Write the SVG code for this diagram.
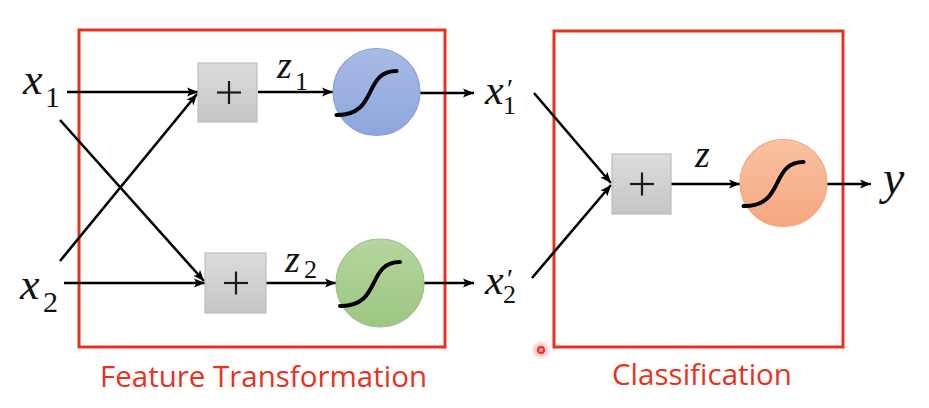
<svg xmlns="http://www.w3.org/2000/svg" width="929" height="408" viewBox="0 0 929 408">
<defs>
<marker id="ah" markerUnits="userSpaceOnUse" markerWidth="12" markerHeight="10" refX="11" refY="5" orient="auto">
<path d="M0,0.5 L11,5 L0,9.5 L2.5,5 Z" fill="#000"/>
</marker>
<linearGradient id="gbox" x1="0" y1="0" x2="0" y2="1">
<stop offset="0" stop-color="#dcdcdc"/><stop offset="1" stop-color="#c6c6c6"/>
</linearGradient>
<linearGradient id="gblue" x1="0" y1="0" x2="0" y2="1">
<stop offset="0" stop-color="#a9bbe6"/><stop offset="1" stop-color="#8ea6dd"/>
</linearGradient>
<linearGradient id="ggreen" x1="0" y1="0" x2="0" y2="1">
<stop offset="0" stop-color="#b5d69d"/><stop offset="1" stop-color="#9cc682"/>
</linearGradient>
<linearGradient id="gorange" x1="0" y1="0" x2="0" y2="1">
<stop offset="0" stop-color="#f9c3a3"/><stop offset="1" stop-color="#f5a67e"/>
</linearGradient>
<radialGradient id="glow">
<stop offset="0" stop-color="#ff3b3b" stop-opacity="0.55"/><stop offset="1" stop-color="#ff3b3b" stop-opacity="0"/>
</radialGradient>
<style>
.frame{fill:none;stroke:#e8321e;stroke-width:3}
.box{fill:url(#gbox);stroke:#bdbdbd;stroke-width:1.2}
.plus{stroke:#1a1a1a;stroke-width:2.2}
.sig{fill:none;stroke:#000;stroke-width:4;stroke-linecap:round}
.edge{stroke:#000;stroke-width:2.6;fill:none}
.arr{marker-end:url(#ah)}
.m{font-family:"Liberation Serif","DejaVu Serif",serif;font-style:italic;fill:#111}
.s{font-style:normal}
.cap{font-family:"Open Sans","Noto Sans",sans-serif;fill:#e8321e}
</style>
</defs>

<g id="frame-feature"><rect class="frame" x="79" y="30" width="366" height="317"/>
<text class="cap" x="100" y="387" font-size="29" textLength="327" lengthAdjust="spacingAndGlyphs">Feature Transformation</text></g>
<g id="frame-class"><rect class="frame" x="554" y="31" width="289" height="316"/>
<text class="cap" x="612" y="385" font-size="29" textLength="180" lengthAdjust="spacingAndGlyphs">Classification</text></g>

<g id="connectors">
<line class="edge arr" x1="67" y1="92" x2="198" y2="92"/>
<line class="edge arr" x1="60" y1="120" x2="204" y2="281"/>
<line class="edge arr" x1="60" y1="261" x2="197" y2="94"/>
<line class="edge arr" x1="64" y1="283" x2="205" y2="283"/>
<line class="edge arr" x1="258" y1="92" x2="333" y2="92"/>
<line class="edge arr" x1="266" y1="283" x2="336" y2="283"/>
<line class="edge arr" x1="420" y1="93" x2="474" y2="93"/>
<line class="edge arr" x1="424" y1="283" x2="474" y2="283"/>
<line class="edge arr" x1="534" y1="93" x2="611" y2="183"/>
<line class="edge arr" x1="532" y1="278" x2="611" y2="185"/>
<line class="edge arr" x1="671" y1="184" x2="740" y2="184"/>
<line class="edge arr" x1="827" y1="184" x2="871" y2="184"/>
</g>

<g id="x1"><text class="m" x="23" y="94" font-size="44">x<tspan class="s" x="45" y="107" font-size="30">1</tspan></text></g>
<g id="x2"><text class="m" x="20" y="299" font-size="44">x<tspan class="s" x="43" y="312" font-size="30">2</tspan></text></g>

<g id="sum1"><rect class="box" x="198" y="63" width="59" height="59"/>
<line class="plus" x1="217" y1="92.5" x2="241" y2="92.5"/><line class="plus" x1="229" y1="81" x2="229" y2="104"/></g>
<g id="sum2"><rect class="box" x="205" y="253" width="61" height="60"/>
<line class="plus" x1="224" y1="283" x2="248" y2="283"/><line class="plus" x1="236" y1="271.5" x2="236" y2="294.5"/></g>

<g id="z1"><text class="m" x="277" y="78" font-size="38">z<tspan class="s" x="295" y="90" font-size="26">1</tspan></text></g>
<g id="z2"><text class="m" x="285" y="272" font-size="38">z<tspan class="s" x="304" y="278" font-size="26">2</tspan></text></g>

<g id="sig1"><circle cx="376.5" cy="92" r="43.5" fill="url(#gblue)" stroke="#8aa0d6" stroke-width="1.2"/>
<path class="sig" transform="translate(376.5,92)" d="M-40,23 C2,24 -14,-21 20,-21"/></g>
<g id="sig2"><circle cx="380" cy="283" r="44" fill="url(#ggreen)" stroke="#9cc484" stroke-width="1.2"/>
<path class="sig" transform="translate(380,283)" d="M-40,23 C2,24 -14,-21 20,-21"/></g>

<g id="xp1"><text class="m" x="485" y="104" font-size="42">x<tspan class="s" x="507" y="98" font-size="28">′</tspan><tspan class="s" x="503" y="114" font-size="26">1</tspan></text></g>
<g id="xp2"><text class="m" x="485" y="294" font-size="42">x<tspan class="s" x="507" y="288" font-size="28">′</tspan><tspan class="s" x="503" y="303" font-size="26">2</tspan></text></g>

<g id="sum3"><rect class="box" x="612" y="154" width="59" height="60"/>
<line class="plus" x1="630" y1="184" x2="654" y2="184"/><line class="plus" x1="642" y1="172.5" x2="642" y2="195.5"/></g>
<g id="z"><text class="m" x="695" y="167" font-size="38">z</text></g>
<g id="sig3"><circle cx="783.5" cy="183" r="43.5" fill="url(#gorange)" stroke="#f3a77f" stroke-width="1.2"/>
<path class="sig" transform="translate(783.5,183)" d="M-40,23 C2,24 -14,-21 20,-21"/></g>
<g id="y"><text class="m" x="883" y="194" font-size="48">y</text></g>

<g id="cursor"><circle cx="541" cy="350" r="10" fill="url(#glow)"/><circle cx="541" cy="350" r="3" fill="none" stroke="#e8321e" stroke-width="2"/></g>
</svg>
